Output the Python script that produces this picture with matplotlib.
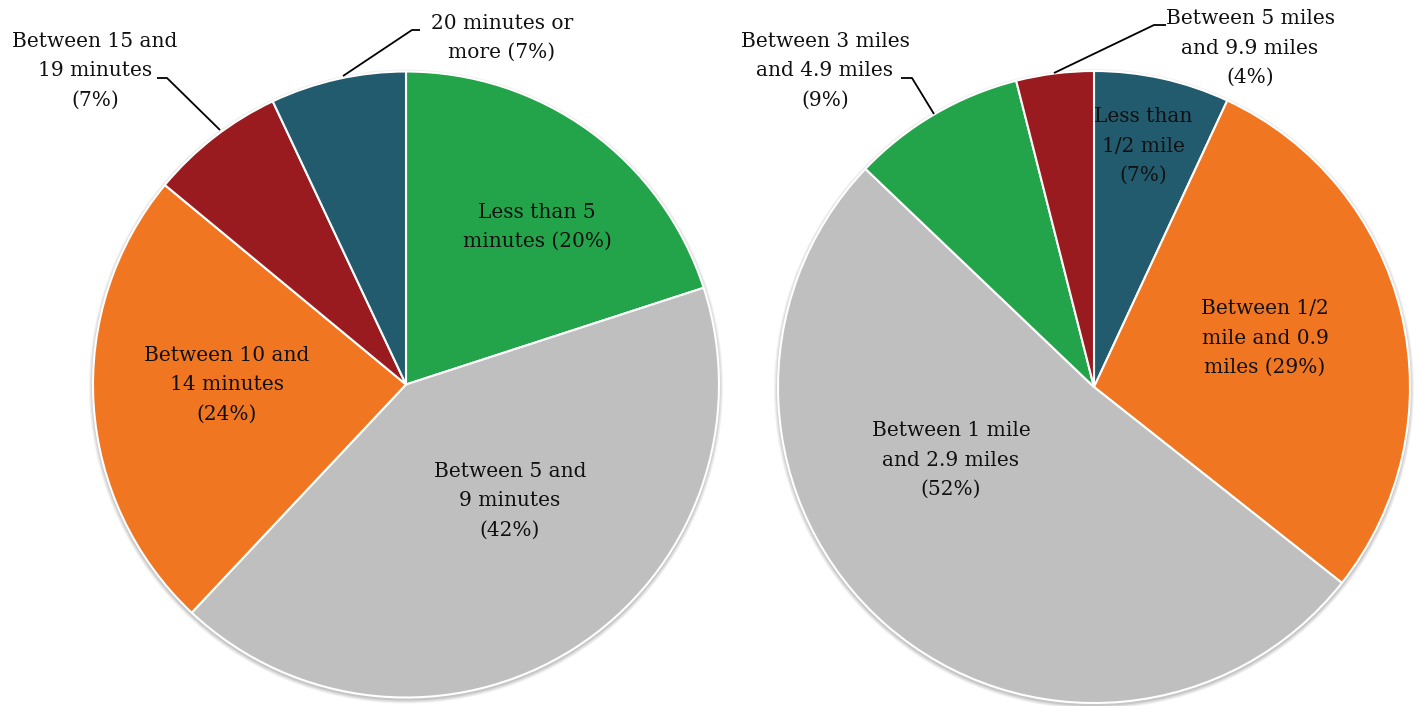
import matplotlib.pyplot as plt
from matplotlib.patches import Circle

plt.rcParams['font.family'] = ['DejaVu Serif']

# commute time shares
time_labels = ['Less than 5\nminutes (20%)', 'Between 5 and\n9 minutes\n(42%)',
               'Between 10 and\n14 minutes\n(24%)', 'Between 15 and\n19 minutes\n(7%)',
               '20 minutes or\nmore (7%)']
time_values = [20, 42, 24, 7, 7]
time_colors = ['#23A44A', '#BFBFBF', '#F07622', '#9A1B1F', '#225B6E']

# commute distance shares
dist_labels = ['Less than\n1/2 mile\n(7%)', 'Between 1/2\nmile and 0.9\nmiles (29%)',
               'Between 1 mile\nand 2.9 miles\n(52%)', 'Between 3 miles\nand 4.9 miles\n(9%)',
               'Between 5 miles\nand 9.9 miles\n(4%)']
dist_values = [7, 29, 52, 9, 4]
dist_colors = ['#225B6E', '#F07622', '#BFBFBF', '#23A44A', '#9A1B1F']

W, H = 1417, 706
fig = plt.figure(figsize=(W / 100, H / 100), dpi=100)
ax = fig.add_axes([0, 0, 1, 1])


def py(y):
    # image-style y (from top) to axes y
    return H - y


def draw_pie(values, colors, cx, cy, r):
    # soft drop shadow
    for i, a in enumerate([0.05, 0.05, 0.06, 0.08]):
        ax.add_patch(Circle((cx, py(cy) - 2), r + 4 - i, color='#000000',
                            alpha=a, lw=0, zorder=0))
    ax.pie(values, colors=colors, center=(cx, py(cy)), radius=r,
           startangle=90, counterclock=False, frame=True,
           wedgeprops=dict(edgecolor='white', linewidth=1.5, zorder=1))


draw_pie(time_values, time_colors, 406, 384.5, 313)
draw_pie(dist_values, dist_colors, 1094, 387, 316)
ax.set_xlim(0, W)
ax.set_ylim(0, H)
ax.set_aspect('equal')
ax.axis('off')

txt = dict(ha='center', va='center', fontsize=14.5, color='#111111',
           linespacing=1.7, zorder=5)

# inner labels
inner = [(time_labels[0], 537, 227), (time_labels[1], 510, 501),
         (time_labels[2], 227, 385), (dist_labels[0], 1143, 146),
         (dist_labels[1], 1265, 338), (dist_labels[2], 951, 460)]
for s, x, y in inner:
    ax.text(x, py(y), s, **txt)

# outer labels with leader lines
outer = [(time_labels[3], 95, 71, [(220, 130), (167, 78), (157, 78)]),
         (time_labels[4], 502, 38, [(343, 76), (412, 30), (420, 30)]),
         (dist_labels[3], 825, 71, [(934, 114), (912, 78), (901, 78)]),
         (dist_labels[4], 1250, 48, [(1054, 73), (1154, 25), (1166, 25)])]
for s, x, y, pts in outer:
    ax.text(x, py(y), s, **txt)
    ax.plot([p[0] for p in pts], [py(p[1]) for p in pts], color='black',
            lw=1.3, zorder=4, solid_capstyle='butt')

fig.savefig('out.png', dpi=100)
